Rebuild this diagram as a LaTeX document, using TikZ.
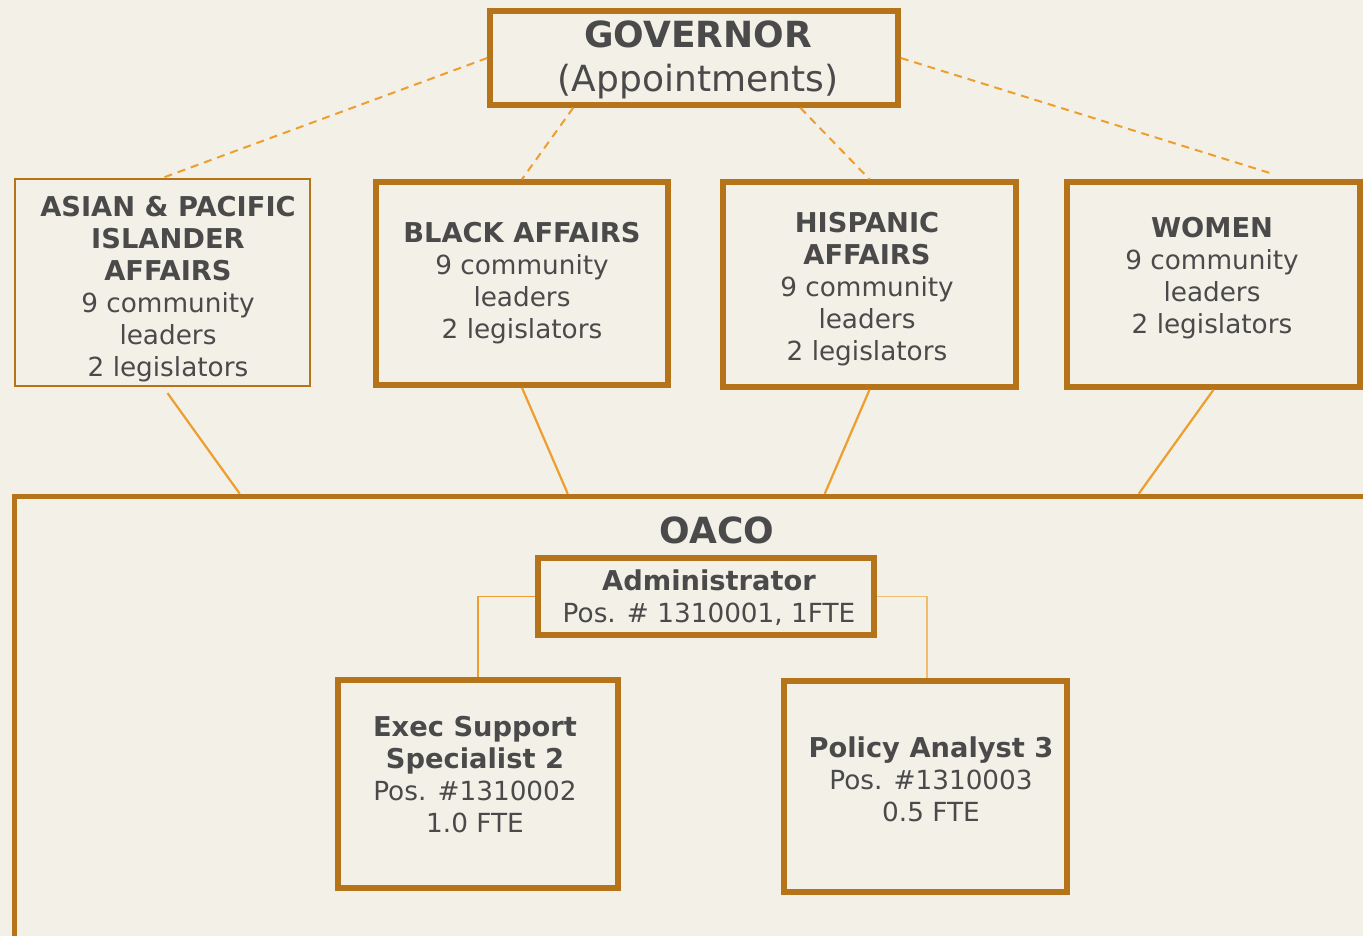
\documentclass[tikz,border=0pt]{standalone}
\usepackage{fontspec}
\setmainfont{DejaVu Sans}
\usetikzlibrary{calc}
\definecolor{bg}{HTML}{F3F0E8}
\definecolor{boxc}{HTML}{B5731A}
\definecolor{linec}{HTML}{EE9E2E}
\definecolor{linelight}{HTML}{F2BC6E}
\definecolor{txt}{HTML}{4A4A4A}
\newcommand{\hb}[1]{{\fontsize{27.3}{32}\selectfont\bfseries #1}}
\tikzset{
  box/.style={draw=boxc, line width=5.5pt, rectangle, inner sep=0pt},
  thinbox/.style={draw=boxc, line width=2.2pt, rectangle, inner sep=0pt},
  lbl/.style={text=txt, align=center, inner sep=0pt, font=\fontsize{26.3}{32}\selectfont},
  biglbl/.style={text=txt, align=center, inner sep=0pt, font=\fontsize{36}{44}\selectfont},
  govline/.style={draw=linec, line width=2pt, dash pattern=on 8pt off 6pt},
  conn/.style={draw=linec, line width=2.2pt},
  connlight/.style={draw=linelight, line width=1.4pt}
}
\begin{document}
\begin{tikzpicture}[x=1pt,y=-1pt]
\useasboundingbox (0,0) rectangle (1363,936);
\fill[bg] (0,0) rectangle (1363,936);

% boxes
\node[box, minimum width=408pt, minimum height=94pt] (gov) at (694,58) {};
\node[thinbox, minimum width=295pt, minimum height=207pt] (asian) at (162.5,282.5) {};
\node[box, minimum width=292pt, minimum height=203pt] (black) at (522,283.5) {};
\node[box, minimum width=293pt, minimum height=205pt] (hisp) at (869.5,284.5) {};
\node[box, minimum width=293pt, minimum height=205pt] (women) at (1213.5,284.5) {};
\node[box, minimum width=1385pt, minimum height=503pt] (oaco) at (707,748) {};
\node[box, minimum width=336pt, minimum height=77pt] (admin) at (706,596.5) {};
\node[box, minimum width=280pt, minimum height=208pt] (exec) at (478,784) {};
\node[box, minimum width=283pt, minimum height=211pt] (policy) at (925.5,786.5) {};

% texts
\node[biglbl] (govt) at (698,60) {\textbf{GOVERNOR}\\(Appointments)};
\node[lbl] (asiant) at (168,289) {\hb{ASIAN \& PACIFIC}\\\hb{ISLANDER}\\\hb{AFFAIRS}\\9 community\\leaders\\2 legislators};
\node[lbl] (blackt) at (522,283) {\hb{BLACK AFFAIRS}\\9 community\\leaders\\2 legislators};
\node[lbl] (hispt) at (867,289) {\hb{HISPANIC}\\\hb{AFFAIRS}\\9 community\\leaders\\2 legislators};
\node[lbl] (woment) at (1212,278) {\hb{WOMEN}\\9 community\\leaders\\2 legislators};
\node[biglbl] (oacot) at (717,530) {\textbf{OACO}};
\node[lbl] (admint) at (709,598) {\hb{Administrator}\\Pos. \# 1310001, 1FTE};
\node[lbl] (exect) at (475,775) {\hb{Exec Support}\\\hb{Specialist 2}\\Pos. \#1310002\\1.0 FTE};
\node[lbl] (policyt) at (931,779) {\hb{Policy Analyst 3}\\Pos. \#1310003\\0.5 FTE};

% governor connectors
\coordinate (wend) at (1273,174);
\draw[govline] (gov.west) -- (asian.north);
\draw[govline] ($(gov.south west)+(86,0)$) -- (black.north);
\draw[govline] ($(gov.south west)+(313,0)$) -- (hisp.north);
\draw[govline] (gov.east) -- (wend);

% commission to OACO
\draw[conn] ($(asian.south)+(5,6)$) -- ($(oaco.north west)+(228,0)$);
\draw[conn] (black.south) -- ($(oaco.north west)+(556,0)$);
\draw[conn] (hisp.south) -- ($(oaco.north west)+(813,0)$);
\draw[conn] (women.south) -- ($(oaco.north west)+(1127,0)$);

% OACO internal
\draw[conn, line width=1.6pt] (admin.west) -| (exec.north);
\draw[connlight] (admin.east) -| ($(policy.north)+(1.5,0)$);
\end{tikzpicture}
\end{document}
